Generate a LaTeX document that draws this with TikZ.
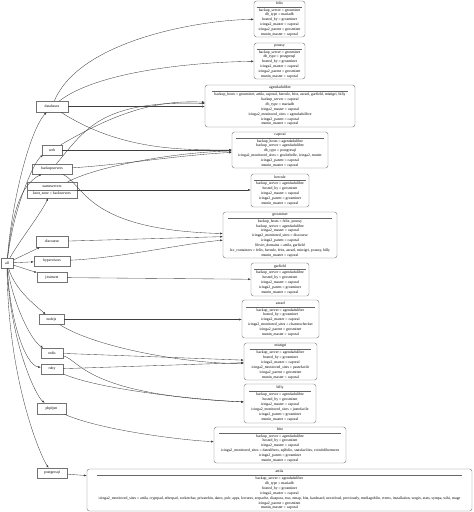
\documentclass[tikz,border=0pt]{standalone}
\usepackage{fontspec}
\setmainfont{Liberation Serif}
\usepackage{colortbl}
\usetikzlibrary{arrows.meta}
\begin{document}
\begin{tikzpicture}[x=1pt,y=-1pt,
  every node/.style={font=\fontsize{3.8}{4.9}\selectfont, inner sep=0pt},
  grp/.style={draw=black!55, line width=0.4pt, rectangle, minimum height=10pt},
  host/.style={draw=black!55, line width=0.4pt, rounded corners=2.5pt, align=center},
  edge/.style={draw=black!75, line width=0.35pt, -{Latex[length=2.6pt,width=2pt]}}]
\useasboundingbox (0,0) rectangle (474,512);
\arrayrulecolor{black!60}
\setlength{\arrayrulewidth}{0.3pt}
\newcommand{\hb}[2]{\begin{tabular}{@{\hspace{2pt}}c@{\hspace{2pt}}}#1\\\noalign{\vskip0.6pt}\hline\noalign{\vskip0.8pt}#2\end{tabular}}
% group nodes
\node[grp, minimum width=12pt] (all) at (7,263) {all};
\node[grp, minimum width=32pt, minimum height=11pt] (databases) at (52,106.5) {databases};
\node[grp, minimum width=20pt] (web) at (52,150) {web};
\node[grp, minimum width=40pt] (backupservers) at (52,169) {backupservers};
\node[grp, minimum width=50pt, minimum height=16pt, align=center] (nameservers) at (52,190) {nameservers\\[2pt]knot\_zone = backservers};
\draw[black!55, line width=0.4pt] (nameservers.west) -- (nameservers.east);
\node[grp, minimum width=32pt, minimum height=11pt] (discourse) at (52,241.5) {discourse};
\node[grp, minimum width=36pt] (hypervisors) at (52,261) {hypervisors};
\node[grp, minimum width=30pt] (jitsimeet) at (52,277.5) {jitsimeet};
\node[grp, minimum width=25pt] (nodejs) at (51.5,319.5) {nodejs};
\node[grp, minimum width=22pt] (redis) at (52,353) {redis};
\node[grp, minimum width=22pt] (ruby) at (52,369) {ruby};
\node[grp, minimum width=29pt, minimum height=11pt] (phpfpm) at (51.5,408.5) {phpfpm};
\node[grp, minimum width=30pt] (postgresql) at (52,473) {postgresql};
% host nodes
\node[host, minimum width=51pt, minimum height=36pt] (felix) at (279.5,19) {\hb{felix}{%
backup\_server = grosminet\\db\_type = mariadb\\hosted\_by = grosminet\\icinga2\_master = caporal\\icinga2\_parent = grosminet\\munin\_master = caporal}};
\node[host, minimum width=51pt, minimum height=36pt] (poussy) at (279.5,61) {\hb{poussy}{%
backup\_server = grosminet\\db\_type = postgresql\\hosted\_by = grosminet\\icinga2\_master = caporal\\icinga2\_parent = grosminet\\munin\_master = caporal}};
\node[host, minimum width=150pt, minimum height=42pt] (agendadulibre) at (280,106) {\hb{agendadulibre}{%
backup\_hosts = grosminet, attila, caporal, hercule, fritz, azrael, garfield, mistigri, billy\\backup\_server = caporal\\db\_type = mariadb\\icinga2\_master = caporal\\icinga2\_monitored\_sites = agendadulibre\\icinga2\_parent = caporal\\munin\_master = caporal}};
\node[host, minimum width=96pt, minimum height=36pt] (caporal) at (280,150) {\hb{caporal}{%
backup\_hosts = agendadulibre\\backup\_server = agendadulibre\\db\_type = postgresql\\icinga2\_monitored\_sites = goulotbelle, icinga2, munin\\icinga2\_parent = caporal\\munin\_master = caporal}};
\node[host, minimum width=58pt, minimum height=33pt] (hercule) at (280,190.5) {\hb{hercule}{%
backup\_server = agendadulibre\\hosted\_by = grosminet\\icinga2\_master = caporal\\icinga2\_parent = grosminet\\munin\_master = caporal}};
\node[host, minimum width=114pt, minimum height=46pt] (grosminet) at (280,235) {\hb{grosminet}{%
backup\_hosts = felix, poussy\\backup\_server = agendadulibre\\icinga2\_master = caporal\\icinga2\_monitored\_sites = discourse\\icinga2\_parent = caporal\\libvirt\_domains = attila, garfield\\lxc\_containers = felix, hercule, fritz, azrael, mistigri, poussy, billy\\munin\_master = caporal}};
\node[host, minimum width=58pt, minimum height=33pt] (garfield) at (280,279.5) {\hb{garfield}{%
backup\_server = agendadulibre\\hosted\_by = grosminet\\icinga2\_master = caporal\\icinga2\_parent = grosminet\\munin\_master = caporal}};
\node[host, minimum width=77pt, minimum height=38pt] (azrael) at (280.5,319) {\hb{azrael}{%
backup\_server = agendadulibre\\hosted\_by = grosminet\\icinga2\_master = caporal\\icinga2\_monitored\_sites = chatonschecker\\icinga2\_parent = grosminet\\munin\_master = caporal}};
\node[host, minimum width=73pt, minimum height=37pt] (mistigri) at (280.5,361.5) {\hb{mistigri}{%
backup\_server = agendadulibre\\hosted\_by = grosminet\\icinga2\_master = caporal\\icinga2\_monitored\_sites = pastefacile\\icinga2\_parent = grosminet\\munin\_master = caporal}};
\node[host, minimum width=72pt, minimum height=39pt] (billy) at (280,403.5) {\hb{billy}{%
backup\_server = agendadulibre\\hosted\_by = grosminet\\icinga2\_master = caporal\\icinga2\_monitored\_sites = justefacile\\icinga2\_parent = grosminet\\munin\_master = caporal}};
\node[host, minimum width=132pt, minimum height=36pt] (fritz) at (280,445) {\hb{fritz}{%
backup\_server = agendadulibre\\hosted\_by = grosminet\\icinga2\_master = caporal\\icinga2\_monitored\_sites = dateslibres, sqlfolio, statsfacilies, voixdelibrement\\icinga2\_parent = grosminet\\munin\_master = caporal}};
\node[host, minimum width=385pt, minimum height=42pt] (attila) at (279.5,490) {\hb{attila}{%
backup\_server = agendadulibre\\db\_type = mariadb\\hosted\_by = grosminet\\icinga2\_master = caporal\\icinga2\_monitored\_sites = attila, cryptpad, etherpad, rocketchat, privatebin, dates, polr, apps, lectures, serpache, diaspora, rsss, nmap, bits, kanboard, nextcloud, previously, mediagoblin, vtrees, installation, wogix, stats, sympa, wiki, mage\\icinga2\_parent = grosminet\\munin\_master = caporal}};
% edges from all
\draw[edge] (all) .. controls (12,200) and (30,130) .. (databases);
\draw[edge] (all) .. controls (14,205) and (35,160) .. (web);
\draw[edge] (all) .. controls (12,215) and (20,185) .. (backupservers);
\draw[edge] (all) .. controls (20,240) and (40,215) .. (nameservers);
\draw[edge] (all) -- (discourse);
\draw[edge] (all) -- (hypervisors);
\draw[edge] (all) -- (jitsimeet);
\draw[edge] (all) .. controls (15,290) and (35,305) .. (nodejs);
\draw[edge] (all) .. controls (12,300) and (30,340) .. (redis);
\draw[edge] (all) .. controls (10,320) and (25,365) .. (ruby);
\draw[edge] (all) .. controls (10,340) and (35,395) .. (phpfpm);
\draw[edge] (all) .. controls (8,380) and (40,455) .. (postgresql);
% edges to hosts
\draw[edge] (databases) .. controls (80,40) and (200,20) .. (felix);
\draw[edge] (databases) .. controls (100,70) and (200,62) .. (poussy);
\draw[edge] (databases) -- (agendadulibre.west |- databases);
\draw[edge] (databases) .. controls (120,150) and (180,150) .. (caporal);
\draw[edge] (web) .. controls (120,110) and (160,100) .. (agendadulibre);
\draw[edge] (web) -- (caporal);
\draw[edge] (backupservers) .. controls (85,130) and (100,100) .. (agendadulibre);
\draw[edge] (backupservers) .. controls (120,165) and (180,155) .. (caporal);
\draw[edge] (backupservers) .. controls (85,185) and (85,230) .. (grosminet);
\draw[edge] (nameservers) .. controls (100,165) and (180,152) .. (caporal);
\draw[edge] (nameservers) -- (hercule.west |- nameservers);
\draw[edge] (discourse) -- (grosminet);
\draw[edge] (hypervisors) .. controls (120,258) and (180,244) .. (grosminet);
\draw[edge] (jitsimeet) -- (garfield);
\draw[edge] (nodejs) -- (azrael.west |- nodejs);
\draw[edge] (nodejs) .. controls (100,350) and (200,365) .. (mistigri);
\draw[edge] (redis) -- (mistigri);
\draw[edge] (redis) .. controls (80,360) and (85,395) .. (billy);
\draw[edge] (ruby) -- (mistigri);
\draw[edge] (ruby) .. controls (100,390) and (200,400) .. (billy);
\draw[edge] (phpfpm) .. controls (100,430) and (180,440) .. (fritz);
\draw[edge] (postgresql) -- (attila);
\end{tikzpicture}
\end{document}
